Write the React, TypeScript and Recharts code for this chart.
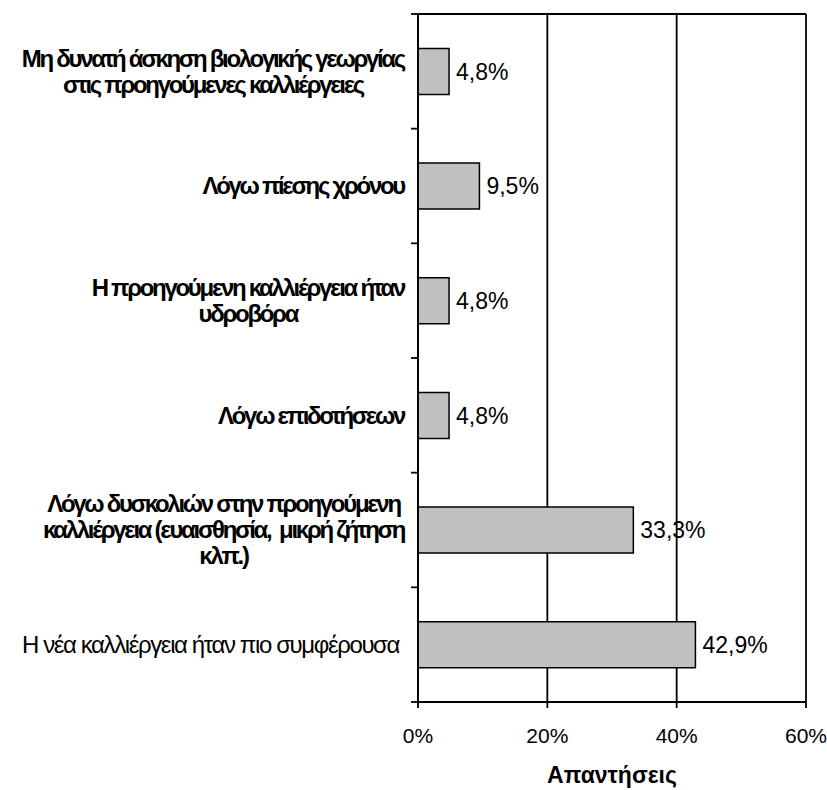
import React from 'react';
import { BarChart, Bar, XAxis, YAxis, CartesianGrid, LabelList, ReferenceLine } from 'recharts';

const categories = [
  'Μη δυνατή άσκηση βιολογικής γεωργίας\nστις προηγούμενες καλλιέργειες',
  'Λόγω πίεσης χρόνου',
  'Η προηγούμενη καλλιέργεια ήταν\nυδροβόρα',
  'Λόγω επιδοτήσεων',
  'Λόγω δυσκολιών στην προηγούμενη\nκαλλιέργεια (ευαισθησία,  μικρή ζήτηση\nκλπ.)',
  'Η νέα καλλιέργεια ήταν πιο συμφέρουσα',
];
const values = [4.8, 9.5, 4.8, 4.8, 33.3, 42.9];
const boldLabel = [true, true, true, true, true, false];
const xTicks = [0, 20, 40, 60];

const data = categories.map((name, i) => ({ name, value: values[i] }));

const FONT = '"Liberation Sans", Arial, sans-serif';
const W = 827;
const H = 790;
const PLOT_LEFT = 418;
const PLOT_RIGHT = 806;
const PLOT_TOP = 14;
const PLOT_BOTTOM = 702;
const BAND = (PLOT_BOTTOM - PLOT_TOP) / categories.length;
const LABEL_RIGHT = 404;
const LINE_H = 26;

// text width, so multi-line labels can be centred inside a right-aligned block
let ctx: CanvasRenderingContext2D | null = null;
const measure = (s: string, bold: boolean, size: number, spacing: number) => {
  if (!ctx) ctx = document.createElement('canvas').getContext('2d');
  if (!ctx) return s.length * size * 0.5;
  ctx.font = `${bold ? 'bold ' : ''}${size}px ${FONT}`;
  return ctx.measureText(s).width + spacing * s.length;
};

const CategoryTick = (props: any) => {
  const { y, payload } = props;
  const idx = categories.indexOf(payload.value);
  const bold = idx >= 0 ? boldLabel[idx] : true;
  const size = 24;
  const spacing = bold ? -2.3 : -1.4;
  const lines = String(payload.value).split('\n');
  const maxW = Math.max(...lines.map((l) => measure(l, bold, size, spacing)));
  const right = bold ? LABEL_RIGHT : LABEL_RIGHT - 5;
  const cx = right - maxW / 2;
  const n = lines.length;
  return (
    <g>
      {/* tick marks sit on the category boundaries */}
      <line x1={PLOT_LEFT - 7} x2={PLOT_LEFT} y1={y - BAND / 2} y2={y - BAND / 2} stroke="#000" strokeWidth={1.8} />
      {idx === categories.length - 1 && (
        <line x1={PLOT_LEFT - 7} x2={PLOT_LEFT} y1={y + BAND / 2} y2={y + BAND / 2} stroke="#000" strokeWidth={1.8} />
      )}
      {lines.map((l, i) => (
        <text
          key={i}
          x={cx}
          y={y + (i - (n - 1) / 2) * LINE_H + size * 0.35}
          textAnchor="middle"
          fontFamily={FONT}
          fontWeight={bold ? 'bold' : 'normal'}
          fontSize={size}
          letterSpacing={spacing}
          fill="#000"
          style={{ whiteSpace: 'pre' }}
        >
          {l}
        </text>
      ))}
    </g>
  );
};

const fmt = (v: any) => `${Number(v).toFixed(1).replace('.', ',')}%`;

const App: React.FC = () => {
  return (
    <div style={{ position: 'absolute', left: 0, top: 0, width: W, height: H, background: '#fff' }}>
      <BarChart
        width={W}
        height={H}
        data={data}
        layout="vertical"
        margin={{ top: PLOT_TOP, right: W - PLOT_RIGHT, bottom: 0, left: 0 }}
        barCategoryGap="30%"
      >
        <CartesianGrid horizontal={false} stroke="#000" strokeWidth={1.8} />
        <XAxis
          type="number"
          domain={[0, 60]}
          ticks={xTicks}
          tickFormatter={(v) => `${v}%`}
          height={H - PLOT_BOTTOM}
          stroke="#000"
          strokeWidth={1.8}
          tickSize={6}
          tickMargin={20}
          tick={{ fill: '#000', fontSize: 21, fontFamily: FONT }}
          label={{ value: 'Απαντήσεις', position: 'insideBottom', offset: 7, fill: '#000', fontSize: 23, fontWeight: 'bold', fontFamily: FONT }}
        />
        <YAxis
          type="category"
          dataKey="name"
          width={PLOT_LEFT}
          stroke="#000"
          strokeWidth={1.8}
          tickLine={false}
          interval={0}
          tick={<CategoryTick />}
        />
        <ReferenceLine y={categories[0]} position="start" stroke="#000" strokeWidth={1.8} ifOverflow="visible" />
        <Bar dataKey="value" fill="#c0c0c0" stroke="#000" strokeWidth={1.5} isAnimationActive={false}>
          <LabelList dataKey="value" position="right" offset={7} formatter={fmt} fill="#000" fontSize={23} fontFamily={FONT} />
        </Bar>
      </BarChart>
    </div>
  );
};

export default App;
